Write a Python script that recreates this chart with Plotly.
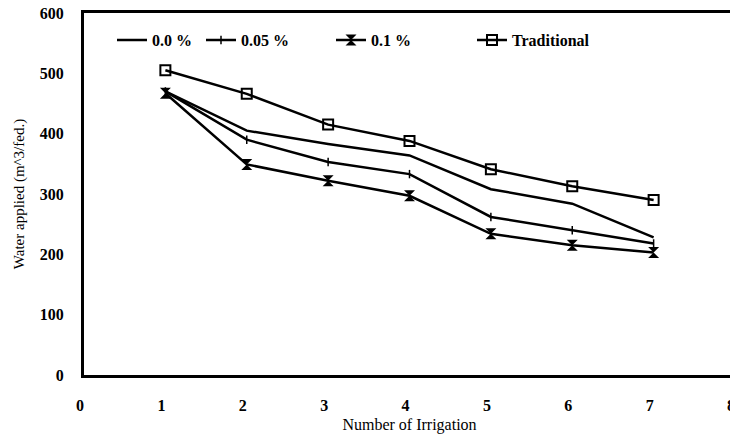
import plotly.graph_objects as go

irrigation = [1, 2, 3, 4, 5, 6, 7]
s_00 = [470, 405, 383, 364, 308, 284, 228]
s_005 = [470, 390, 353, 333, 262, 240, 218]
s_01 = [467, 349, 322, 297, 234, 215, 203]
s_trad = [505, 466, 415, 388, 341, 313, 290]
x_ticks = [0, 1, 2, 3, 4, 5, 6, 7, 8]
y_ticks = [0, 100, 200, 300, 400, 500, 600]

names = ["0.0 %", "0.05 %", "0.1 %", "Traditional"]

fig = go.Figure()
fig.add_trace(go.Scatter(x=irrigation, y=s_00, name=names[0], mode="lines", legend="legend",
                         line=dict(color="black", width=2.5)))
fig.add_trace(go.Scatter(x=irrigation, y=s_005, name=names[1], mode="lines+markers", legend="legend2",
                         line=dict(color="black", width=2.5),
                         marker=dict(symbol="line-ns", size=6, color="black",
                                     line=dict(color="black", width=1.5))))
fig.add_trace(go.Scatter(x=irrigation, y=s_01, name=names[2], mode="lines+markers", legend="legend3",
                         line=dict(color="black", width=2.5),
                         marker=dict(symbol="hourglass", size=11, color="black")))
fig.add_trace(go.Scatter(x=irrigation, y=s_trad, name=names[3], mode="lines+markers", legend="legend4",
                         line=dict(color="black", width=2.5),
                         marker=dict(symbol="square-open", size=10, color="black",
                                     line=dict(color="black", width=2))))

tf = dict(family="Liberation Serif", size=16, color="black", weight="bold")
lf = dict(family="Liberation Serif", size=16, color="black", weight="bold")
ttl = dict(family="Liberation Serif", size=16, color="black", weight="normal")

# page body has an 8px margin, so the figure is 8px smaller and offset
W, H = 730, 432
L, R, T, B = 76, 3, 5, 65
PW = W - L - R

def leg(offset):
    return dict(x=offset / PW, y=0.925, xanchor="left", yanchor="middle",
                bgcolor="rgba(0,0,0,0)", font=lf, borderwidth=0)

fig.update_layout(
    width=W, height=H,
    margin=dict(l=L, r=R, t=T, b=B, autoexpand=False),
    paper_bgcolor="white", plot_bgcolor="white",
    font=tf,
    showlegend=True,
    legend=leg(28),
    legend2=leg(117),
    legend3=leg(247),
    legend4=leg(388),
    xaxis=dict(range=[0, 8], tickmode="array", tickvals=x_ticks, showgrid=False, zeroline=False,
               automargin=False,
               showline=True, linecolor="black", linewidth=3, mirror=True,
               ticks="", tickfont=tf, ticklabelstandoff=14, ticklabelshift=-4,
               ticklabeloverflow="allow",
               title=dict(text="Number of Irrigation", standoff=6, font=ttl)),
    yaxis=dict(range=[0, 600], tickmode="array", tickvals=y_ticks, showgrid=False, zeroline=False,
               automargin=False,
               showline=True, linecolor="black", linewidth=3, mirror=True,
               ticks="", tickfont=tf, ticklabelstandoff=14, ticklabeloverflow="allow",
               title=dict(text="Water applied (m^3/fed.)", standoff=12,
                          font=dict(family="Liberation Serif", size=15, color="black", weight="normal"))),
)

fig.write_html("out.html")
